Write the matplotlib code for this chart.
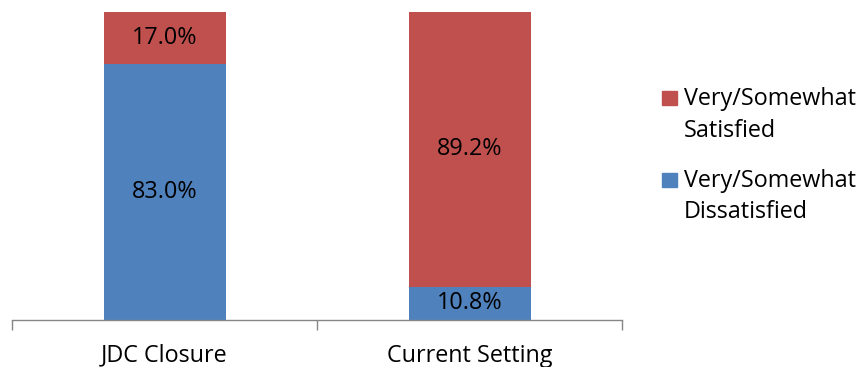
import matplotlib.pyplot as plt
from matplotlib.patches import Rectangle
import numpy as np

plt.rcParams['font.family'] = ['Open Sans', 'DejaVu Sans']

# Data
categories = ['JDC Closure', 'Current Setting']
dissatisfied = [83.0, 10.8]
satisfied = [17.0, 89.2]
legend_lines = [['Very/Somewhat', 'Satisfied'], ['Very/Somewhat', 'Dissatisfied']]

RED = '#C0504D'
BLUE = '#4F81BD'
AXIS_GREY = '#868686'
FS = 16.8

W, H = 861, 367
fig = plt.figure(figsize=(W / 100, H / 100), dpi=100)
ax = fig.add_axes([12 / W, 47 / H, 610 / W, 308 / H])

x = np.arange(len(categories))
b1 = ax.bar(x, dissatisfied, width=0.4, color=BLUE)
b2 = ax.bar(x, satisfied, width=0.4, bottom=dissatisfied, color=RED)

# Value labels centred in each segment
for rects, vals, base in [(b1, dissatisfied, [0, 0]), (b2, satisfied, dissatisfied)]:
    for rect, v, b in zip(rects, vals, base):
        ax.text(rect.get_x() + rect.get_width() / 2, b + v / 2, f"{v:.1f}%",
                ha='center', va='center', fontsize=FS, color='black')

ax.set_xlim(-0.5, len(categories) - 0.5)
ax.set_ylim(0, 100)

for side in ['top', 'right', 'left']:
    ax.spines[side].set_visible(False)
ax.spines['bottom'].set_color(AXIS_GREY)
ax.spines['bottom'].set_linewidth(1.0)

ax.set_yticks([])
ax.set_xticks(x)
ax.set_xticklabels(categories, fontsize=FS)
ax.tick_params(axis='x', which='major', length=0, pad=17)
ax.set_xticks(np.arange(-0.5, len(categories)), minor=True)
ax.tick_params(axis='x', which='minor', length=7, color=AXIS_GREY, width=1.0, direction='out')

# Legend drawn by hand so the swatch lines up with the first text line
colors = [RED, BLUE]
sq_top = [91, 173]
baselines = [[105, 137], [187, 218]]
for c, top, lines, bl in zip(colors, sq_top, legend_lines, baselines):
    fig.patches.append(Rectangle((662 / W, 1 - (top + 14) / H), 15 / W, 14 / H,
                                 transform=fig.transFigure, color=c))
    for txt, yb in zip(lines, bl):
        fig.text(684 / W, 1 - yb / H, txt, ha='left', va='baseline', fontsize=FS)

fig.savefig('out.png', dpi=100)
